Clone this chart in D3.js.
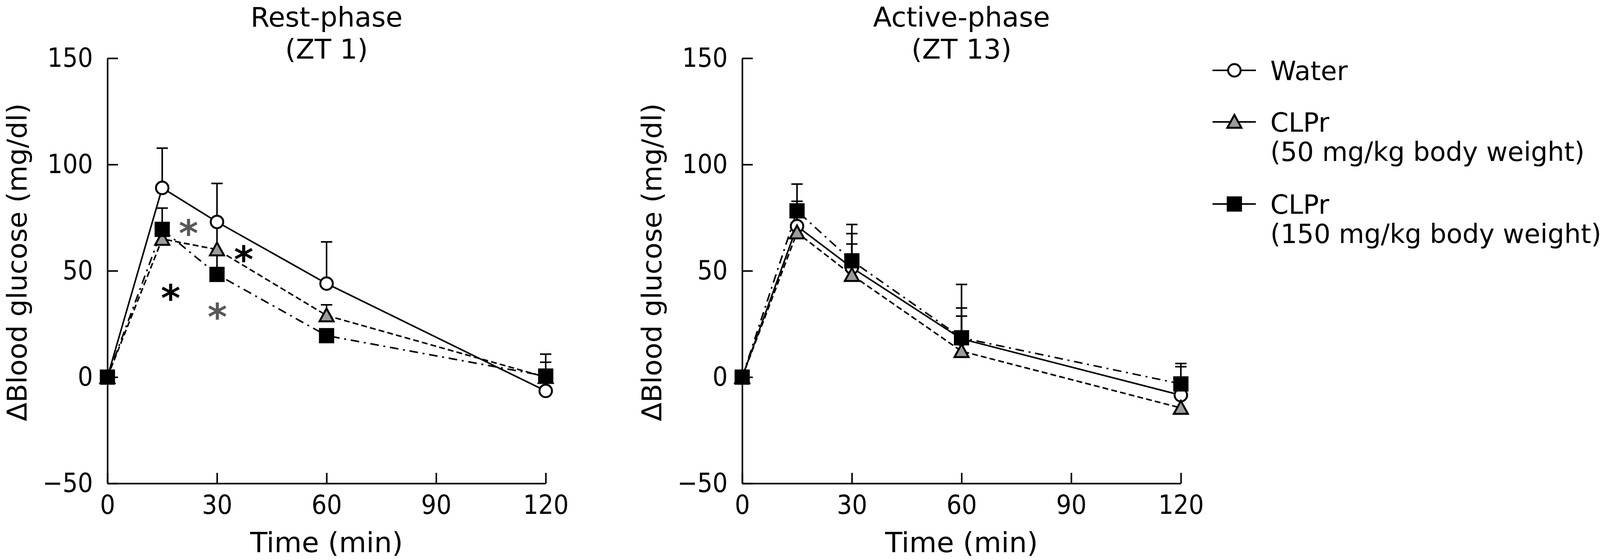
<!DOCTYPE html>
<html>
<head>
<meta charset="utf-8">
<script src="https://cdn.jsdelivr.net/npm/d3@7"></script>
<style>
  body { margin: 0; background: #fff; }
  text { font-family: "DejaVu Sans", sans-serif; fill: #000; }
  .tick text { font-family: "DejaVu Sans Condensed", "DejaVu Sans", sans-serif; font-stretch: condensed; }
</style>
</head>
<body>
<svg id="chart" width="4105" height="1433"></svg>
<script>
// sampling times (min)
const times = [0, 15, 30, 60, 120];
const xTicks = [0, 30, 60, 90, 120];
const yTicks = [-50, 0, 50, 100, 150];

// legend
const seriesNames = ["Water", "CLPr", "CLPr"];
const seriesDoses = ["", "(50 mg/kg body weight)", "(150 mg/kg body weight)"];

// rest phase (ZT 1): mean and SE
const restWater = [0, 89, 73, 44, -6.5];
const restWaterSE = [0, 18.7, 18.1, 19.6, 5];
const restLow = [0, 65, 60, 29, 0];
const restLowSE = [0, 5, 12, 5, 10.8];
const restHigh = [0, 69.5, 48.3, 19.5, 0.5];
const restHighSE = [0, 10, 11, 3, 6.5];

// active phase (ZT 13)
const activeWater = [0, 71, 51.5, 18, -8.5];
const activeWaterSE = [0, 11.7, 16, 25.6, 13.4];
const activeLow = [0, 68, 48, 12.2, -14.5];
const activeLowSE = [0, 8, 14.6, 16.5, 8];
const activeHigh = [0, 78.2, 54.7, 18.5, -3.2];
const activeHighSE = [0, 12.6, 17.1, 14, 9.6];

// significance marks: time, value, group (1 = 50 mg/kg, 2 = 150 mg/kg)
const restStarTimes = [22.2, 37.3, 17.3, 30.1];
const restStarValues = [72, 59.7, 41.5, 32.7];
const restStarGroups = [1, 2, 2, 1];

const svg = d3.select("#chart");

// look of each series
const styles = [
    { shape: "circle", dash: null },
    { shape: "triangle", dash: "15,8" },
    { shape: "square", dash: "22,12,5,12" }
];

const panels = [
    {
        title: ["Rest-phase", "(ZT 1)"], left: 275, right: 1397,
        means: [restWater, restLow, restHigh], ses: [restWaterSE, restLowSE, restHighSE],
        stars: restStarTimes.map((t, i) => ({ t: t, v: restStarValues[i], g: restStarGroups[i] }))
    },
    {
        title: ["Active-phase", "(ZT 13)"], left: 1900, right: 3023,
        means: [activeWater, activeLow, activeHigh], ses: [activeWaterSE, activeLowSE, activeHighSE],
        stars: []
    }
];

// draw one marker shape
function drawMarker(g, shape, cx, cy) {
    if (shape === "circle") {
        g.append("circle")
            .attr("cx", cx).attr("cy", cy).attr("r", 16)
            .attr("fill", "#fff").attr("stroke", "#000").attr("stroke-width", 5);
    } else if (shape === "triangle") {
        g.append("path")
            .attr("d", `M${cx},${cy - 18}L${cx + 18},${cy + 15}L${cx - 18},${cy + 15}Z`)
            .attr("fill", "#9c9c9c").attr("stroke", "#000").attr("stroke-width", 5)
            .attr("stroke-linejoin", "miter");
    } else {
        g.append("rect")
            .attr("x", cx - 19.5).attr("y", cy - 19.5).attr("width", 39).attr("height", 39)
            .attr("fill", "#000");
    }
}

panels.forEach(function (p) {
    const x = d3.scaleLinear().domain([0, 120]).range([p.left, p.right]);
    const y = d3.scaleLinear().domain([-50, 150]).range([1237, 149]);
    const g = svg.append("g");

    // axes with inward ticks
    const yAxis = g.append("g")
        .attr("transform", `translate(${p.left},0)`)
        .call(d3.axisLeft(y).tickValues(yTicks).tickSizeInner(-27).tickSizeOuter(0).tickPadding(37));
    const xAxis = g.append("g")
        .attr("transform", "translate(0,1237)")
        .call(d3.axisBottom(x).tickValues(xTicks).tickSizeInner(-27).tickSizeOuter(0).tickPadding(30));
    [yAxis, xAxis].forEach(a => {
        a.attr("font-size", 68).attr("font-family", null);
        a.selectAll("path, line").attr("stroke", "#000").attr("stroke-width", 4);
    });

    // titles
    p.title.forEach((t, i) => {
        g.append("text")
            .attr("x", (p.left + p.right) / 2).attr("y", 68 + i * 82)
            .attr("text-anchor", "middle").attr("font-size", 70)
            .text(t);
    });
    g.append("text")
        .attr("x", (p.left + p.right) / 2).attr("y", 1413)
        .attr("text-anchor", "middle").attr("font-size", 72)
        .text("Time (min)");
    g.append("text")
        .attr("transform", `translate(${p.left - 207},671) rotate(-90)`)
        .attr("text-anchor", "middle").attr("font-size", 70)
        .text("\u0394Blood glucose (mg/dl)");

    // lines
    p.means.forEach((vals, s) => {
        const line = d3.line().x((d, i) => x(times[i])).y(d => y(d));
        g.append("path")
            .attr("d", line(vals))
            .attr("fill", "none").attr("stroke", "#000").attr("stroke-width", 4)
            .attr("stroke-dasharray", styles[s].dash);
    });

    // error bars (upper only)
    p.means.forEach((vals, s) => {
        vals.forEach((v, i) => {
            const se = p.ses[s][i];
            if (!se) return;
            const cx = x(times[i]);
            g.append("line")
                .attr("x1", cx).attr("x2", cx).attr("y1", y(v)).attr("y2", y(v + se))
                .attr("stroke", "#000").attr("stroke-width", 4);
            g.append("line")
                .attr("x1", cx - 14.5).attr("x2", cx + 14.5).attr("y1", y(v + se)).attr("y2", y(v + se))
                .attr("stroke", "#000").attr("stroke-width", 4);
        });
    });

    // markers
    p.means.forEach((vals, s) => {
        vals.forEach((v, i) => drawMarker(g, styles[s].shape, x(times[i]), y(v)));
    });

    // asterisks
    p.stars.forEach(st => {
        g.append("text")
            .attr("x", x(st.t)).attr("y", y(st.v)).attr("dy", "0.6em")
            .attr("text-anchor", "middle").attr("font-size", 95).attr("font-weight", "bold")
            .style("fill", st.g === 1 ? "#595959" : "#000")
            .text("*");
    });
});

// legend
const legendY = [180, 312, 522];
const legend = svg.append("g");
styles.forEach((st, s) => {
    const ly = legendY[s];
    legend.append("line")
        .attr("x1", 3104).attr("x2", 3215).attr("y1", ly).attr("y2", ly)
        .attr("stroke", "#000").attr("stroke-width", 4);
    drawMarker(legend, st.shape, 3160, ly);
    legend.append("text")
        .attr("x", 3252).attr("y", ly + 25).attr("font-size", 67)
        .text(seriesNames[s]);
    if (seriesDoses[s]) {
        legend.append("text")
            .attr("x", 3252).attr("y", ly + 100).attr("font-size", 67)
            .text(seriesDoses[s]);
    }
});
</script>
</body>
</html>
